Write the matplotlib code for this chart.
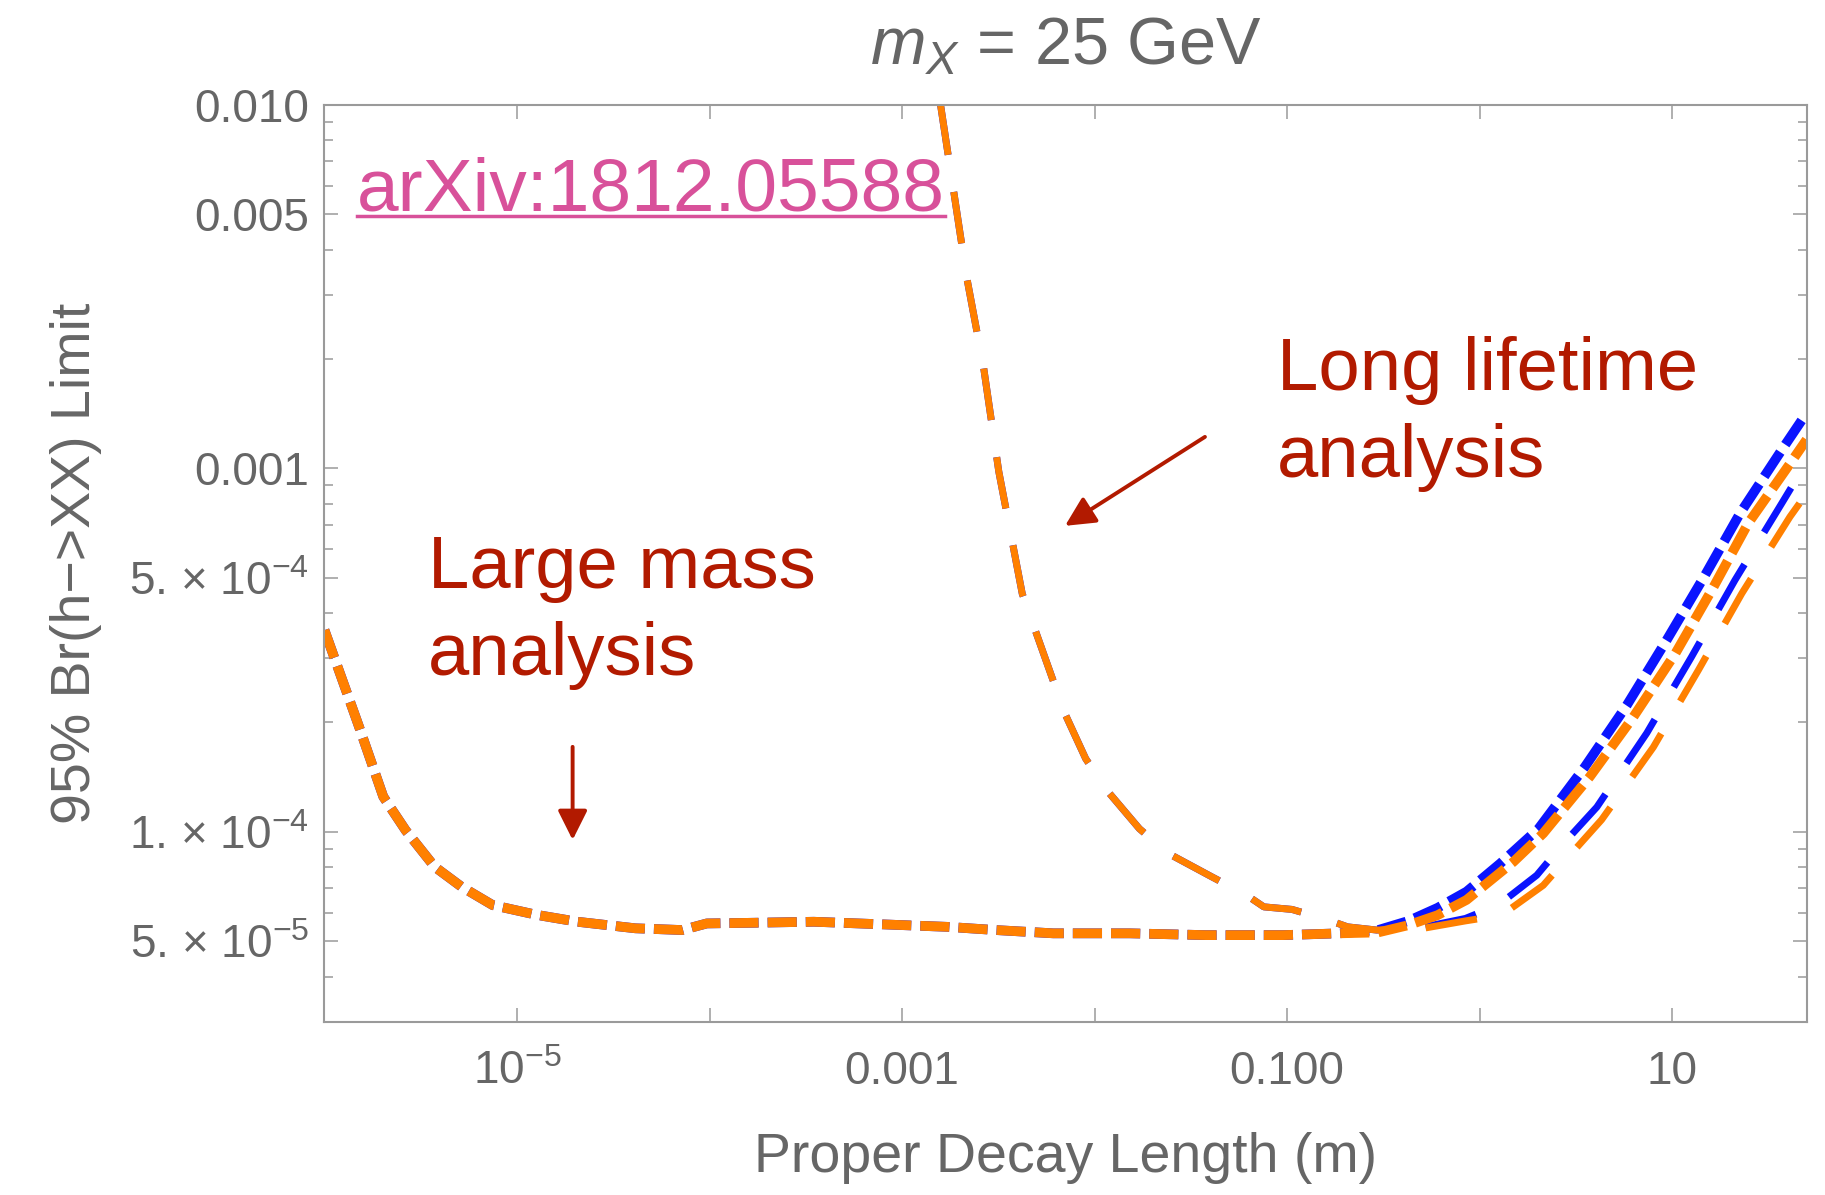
import matplotlib
matplotlib.use("Agg")
import matplotlib.pyplot as plt
from matplotlib.lines import Line2D
from matplotlib.ticker import FixedLocator, FixedFormatter, NullLocator

plt.rcParams['font.family'] = ['Liberation Sans', 'DejaVu Sans']
plt.rcParams['mathtext.fontset'] = 'custom'
plt.rcParams['mathtext.rm'] = 'Liberation Sans'
plt.rcParams['mathtext.it'] = 'Liberation Sans:italic'
plt.rcParams['lines.scale_dashes'] = False

GRAY = '#666666'
FRAME = '#9a9a9a'
BLUE = '#0a14ff'
ORANGE = '#ff8000'
DARKRED = '#b21a00'
PINK = '#d8519a'

# Large mass analysis: common part of both curves (proper decay length in m, Br limit)
ctau_large = [1.0e-6, 1.51e-6, 2.02e-6, 2.64e-6, 3.73e-6, 5.14e-6, 7.47e-6, 1.27e-5,
              2.06e-5, 4.12e-5, 7.21e-5, 9.68e-5, 1.56e-4, 3.48e-4, 7.75e-4, 1.72e-3,
              3.07e-3, 6.1e-3, 0.0152, 0.0379, 0.095, 0.188]
br_large = [3.59e-4, 1.95e-4, 1.25e-4, 1.01e-4, 8.02e-5, 7.07e-5, 6.29e-5, 5.91e-5,
            5.66e-5, 5.43e-5, 5.37e-5, 5.60e-5, 5.62e-5, 5.66e-5, 5.57e-5, 5.48e-5,
            5.37e-5, 5.26e-5, 5.26e-5, 5.20e-5, 5.20e-5, 5.26e-5]

# large-distance tails
ctau_large_blue = [0.297, 0.427, 0.604, 0.855, 1.28, 2.02, 3.52, 5.81, 9.36, 14.8, 22.5, 36.9, 49.9]
br_large_blue = [5.37e-5, 5.69e-5, 6.18e-5, 6.85e-5, 8.19e-5, 1.02e-4, 1.51e-4, 2.23e-4,
                 3.37e-4, 5.08e-4, 7.52e-4, 1.12e-3, 1.42e-3]
ctau_large_orange = [0.297, 0.427, 0.604, 0.855, 1.50, 2.14, 3.74, 6.28, 10.4, 16.4, 24.8, 40.9, 49.9]
br_large_orange = [5.29e-5, 5.54e-5, 5.90e-5, 6.50e-5, 8.28e-5, 9.91e-5, 1.42e-4, 2.07e-4,
                   3.10e-4, 4.72e-4, 7.06e-4, 1.03e-3, 1.20e-3]

# Long lifetime analysis: common part
ctau_long = [1.58e-3, 1.85e-3, 2.17e-3, 2.65e-3, 3.18e-3, 4.21e-3, 7.0e-3, 8.99e-3,
             0.0116, 0.0171, 0.0241, 0.0407, 0.0615, 0.0757, 0.106, 0.164, 0.206, 0.292]
br_long = [1.01e-2, 5.83e-3, 3.34e-3, 1.90e-3, 9.8e-4, 4.52e-4, 2.12e-4, 1.59e-4,
           1.30e-4, 1.02e-4, 8.73e-5, 7.52e-5, 6.70e-5, 6.22e-5, 6.12e-5, 5.72e-5, 5.48e-5, 5.37e-5]

ctau_long_blue = [0.491, 0.843, 1.25, 1.98, 2.67, 4.06, 7.38, 12.6, 21.2, 37.1, 49.9]
br_long_blue = [5.45e-5, 5.78e-5, 6.29e-5, 7.60e-5, 9.18e-5, 1.17e-4, 1.87e-4, 3.03e-4,
                4.93e-4, 8.02e-4, 1.04e-3]
ctau_long_orange = [0.491, 0.843, 1.30, 2.14, 2.84, 4.30, 7.98, 13.7, 23.0, 40.9, 49.9]
br_long_orange = [5.41e-5, 5.69e-5, 5.90e-5, 7.13e-5, 8.45e-5, 1.08e-4, 1.71e-4, 2.79e-4,
                  4.53e-4, 7.36e-4, 8.53e-4]

# axis ticks
x_ticks = [1e-6, 1e-5, 1e-4, 1e-3, 1e-2, 1e-1, 1, 10]
x_ticklabels = ['', r'$10^{-5}$', '', '0.001', '', '0.100', '', '10']
y_ticks = [5e-5, 1e-4, 5e-4, 1e-3, 5e-3, 1e-2]
y_ticklabels = [r'5. × 10$^{-5}$', r'1. × 10$^{-4}$', r'5. × 10$^{-4}$', '0.001', '0.005', '0.010']
y_minor = [4e-5, 6e-5, 7e-5, 8e-5, 9e-5, 2e-4, 3e-4, 4e-4, 6e-4, 7e-4, 8e-4, 9e-4,
           2e-3, 3e-3, 4e-3, 6e-3, 7e-3, 8e-3, 9e-3]

fig = plt.figure(figsize=(18.25, 11.95), dpi=100)
ax = fig.add_axes([0.1778, 0.1448, 0.8122, 0.7674])
ax.set_xscale('log')
ax.set_yscale('log')

thick = dict(lw=7, dashes=(21, 6.5), dash_capstyle='butt')
thin = dict(lw=5, dashes=(37.5, 27), dash_capstyle='butt')

ax.plot(ctau_long + ctau_long_blue, br_long + br_long_blue, color=BLUE, **thin)
ax.plot(ctau_large + ctau_large_blue, br_large + br_large_blue, color=BLUE, **thick)
ax.plot(ctau_long + ctau_long_orange, br_long + br_long_orange, color=ORANGE, **thin)
ax.plot(ctau_large + ctau_large_orange, br_large + br_large_orange, color=ORANGE, **thick)

ax.set_xlim(1e-6, 50)
ax.set_ylim(3e-5, 1e-2)

ax.xaxis.set_major_locator(FixedLocator(x_ticks))
ax.xaxis.set_major_formatter(FixedFormatter(x_ticklabels))
ax.xaxis.set_minor_locator(NullLocator())
ax.yaxis.set_major_locator(FixedLocator(y_ticks))
ax.yaxis.set_major_formatter(FixedFormatter(y_ticklabels))
ax.yaxis.set_minor_locator(FixedLocator(y_minor))

ax.tick_params(which='both', direction='in', top=True, right=True,
               color=FRAME, labelcolor=GRAY, labelsize=33, width=1.1)
ax.tick_params(which='major', length=10)
ax.tick_params(which='minor', length=6.5)
ax.tick_params(axis='x', pad=20)
ax.tick_params(axis='y', pad=11)
for sp in ax.spines.values():
    sp.set_color(FRAME)
    sp.set_linewidth(1.5)

ax.set_xlabel('Proper Decay Length (m)', fontsize=40, color=GRAY)
ax.set_ylabel('95% Br(h\u2212>XX) Limit', fontsize=40, color=GRAY)
ax.xaxis.set_label_coords(0.5, -0.12)
ax.yaxis.set_label_coords(-0.15, 0.5)
ax.set_title(r'$m_X$ = 25 GeV', fontsize=48, color=GRAY, pad=29)

# annotations
note = dict(transform=ax.transAxes, fontsize=53.5, color=DARKRED)
ax.text(0.070, 0.4735, 'Large mass', **note)
ax.text(0.070, 0.378, 'analysis', **note)
ax.text(0.6425, 0.689, 'Long lifetime', **note)
ax.text(0.6425, 0.594, 'analysis', **note)

arrow = dict(arrowstyle='-|>,head_length=0.4,head_width=0.2', color=DARKRED, lw=2.8,
             mutation_scale=45, shrinkA=0, shrinkB=0)
ax.annotate('', xy=(0.4996, 0.541), xytext=(0.594, 0.638),
            xycoords='axes fraction', textcoords='axes fraction', arrowprops=arrow)
ax.annotate('', xy=(0.1674, 0.1985), xytext=(0.1674, 0.300),
            xycoords='axes fraction', textcoords='axes fraction', arrowprops=arrow)

ref = ax.text(0.0221, 0.8847, 'arXiv:1812.05588', transform=ax.transAxes,
              fontsize=54, color=PINK)
fig.canvas.draw()
bb = ref.get_window_extent().transformed(ax.transAxes.inverted())
ax.add_line(Line2D([bb.x0, bb.x1], [0.8784, 0.8784], transform=ax.transAxes,
                   color=PINK, lw=2.5, clip_on=False))

fig.savefig('out.png', dpi=100)
